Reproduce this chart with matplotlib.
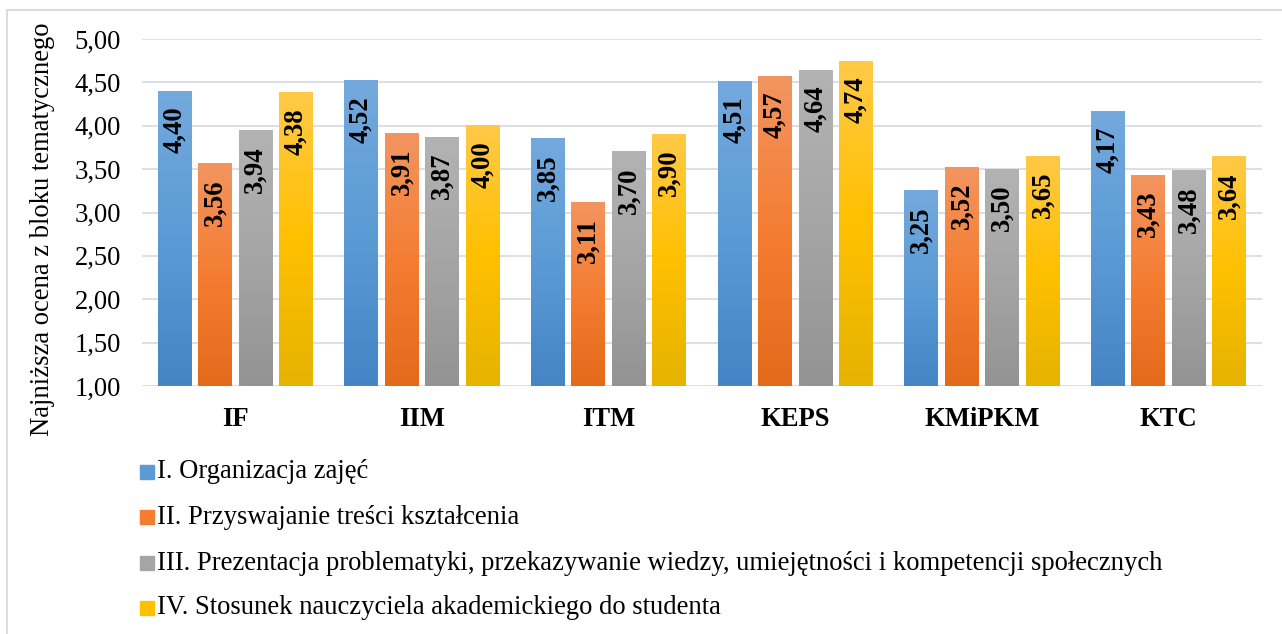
import numpy as np
import matplotlib
matplotlib.use('Agg')
from matplotlib import pyplot as plt
from matplotlib.colors import LinearSegmentedColormap
from matplotlib.patches import Rectangle

categories = ['IF', 'IIM', 'ITM', 'KEPS', 'KMiPKM', 'KTC']
series_names = ['I. Organizacja zajęć',
                'II. Przyswajanie treści kształcenia',
                'III. Prezentacja problematyki, przekazywanie wiedzy, umiejętności i kompetencji społecznych',
                'IV. Stosunek nauczyciela akademickiego do studenta']
org = [4.40, 4.52, 3.85, 4.51, 3.25, 4.17]
przysw = [3.56, 3.91, 3.11, 4.57, 3.52, 3.43]
prezent = [3.94, 3.87, 3.70, 4.64, 3.50, 3.48]
stosunek = [4.38, 4.00, 3.90, 4.74, 3.65, 3.64]
series = [org, przysw, prezent, stosunek]
yticks = [1.0, 1.5, 2.0, 2.5, 3.0, 3.5, 4.0, 4.5, 5.0]

# top / middle / bottom colours of the gradient fill
grads = [['#74a9dd', '#5b9bd5', '#4584c6'],
         ['#f29560', '#f47d32', '#e46a1b'],
         ['#b3b3b3', '#a5a5a5', '#939393'],
         ['#ffc947', '#ffc000', '#e5b300']]

plt.rcParams['font.family'] = ['Liberation Serif', 'DejaVu Serif']
fs = 19.2

fig = plt.figure(figsize=(12.82, 6.34), dpi=100)
ax = fig.add_axes([142/1282, 1 - 386/634, 1120/1282, (386 - 39)/634])

# light frame around the chart (only left and top edges show)
fig.patches.append(Rectangle((7/1282, -0.1), 1.2, 1.1 - 10/634, transform=fig.transFigure,
                             fill=False, edgecolor='#d9d9d9', linewidth=1.3))

x = np.arange(len(categories))
width = 0.182
step = 0.217
for i, vals in enumerate(series):
    cmap = LinearSegmentedColormap.from_list('g%d' % i, grads[i][::-1])
    grad = np.linspace(0, 1, 256).reshape(-1, 1)
    bars = ax.bar(x + (i - 1.5) * step, np.array(vals) - 1, width, bottom=1,
                  color=grads[i][1], zorder=2)
    for b, v in zip(bars, vals):
        bx, by, bw, bh = b.get_x(), b.get_y(), b.get_width(), b.get_height()
        ax.imshow(grad, cmap=cmap, origin='lower', aspect='auto',
                  extent=(bx, bx + bw, by, by + bh), zorder=3)
        ax.annotate(('%.2f' % v).replace('.', ','), (bx + bw / 2, by + bh),
                    xytext=(0, -11), textcoords='offset points',
                    rotation=90, ha='center', va='top', fontsize=fs,
                    fontweight='bold', color='black', zorder=4)

ax.set_xlim(-0.5, len(categories) - 0.5)
ax.set_ylim(1, 5)
ax.set_yticks(yticks)
ax.set_yticklabels([('%.2f' % t).replace('.', ',') for t in yticks], fontsize=fs)
ax.set_xticks(x)
ax.set_xticklabels(categories, fontsize=fs, fontweight='bold')
ax.tick_params(axis='both', length=0)
ax.tick_params(axis='y', pad=15)
ax.tick_params(axis='x', pad=15)
ax.grid(axis='y', color='#d9dde4', linewidth=1.3, zorder=0)
ax.set_axisbelow(True)
for s in ax.spines.values():
    s.set_visible(False)

fig.text(43/1282, 1 - 229/634, 'Najniższa ocena z bloku tematycznego',
         rotation=90, ha='center', va='center', fontsize=fs)

# legend
rows = [472, 517, 563, 608]
for i, name in enumerate(series_names):
    yc = 1 - rows[i]/634
    fig.patches.append(Rectangle((140/1282, yc - 7/634), 14/1282, 14/634,
                                 transform=fig.transFigure, color=grads[i][1]))
    fig.text(157/1282, yc, name, ha='left', va='center', fontsize=fs)

fig.savefig('out.png', dpi=100, facecolor='white')
